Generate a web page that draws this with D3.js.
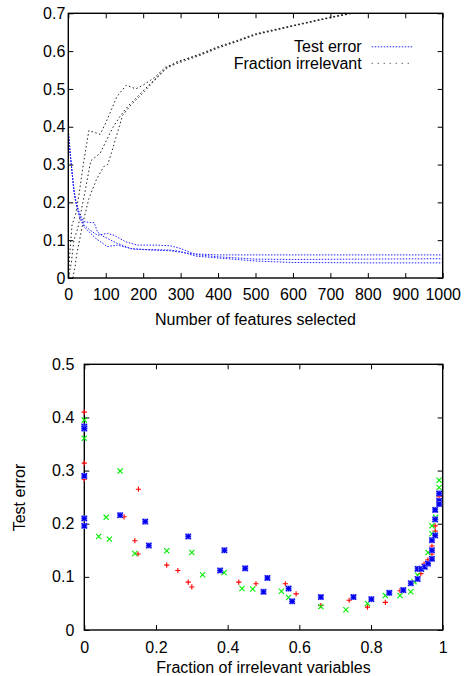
<!DOCTYPE html>
<html>
<head>
<meta charset="utf-8">
<script src="https://cdn.jsdelivr.net/npm/d3@7"></script>
<style>
  html, body { margin: 0; padding: 0; background: #fff; }
  svg { display: block; }
  text { font-family: "Liberation Sans", Arial, sans-serif; font-size: 16px; fill: #000; }
</style>
</head>
<body>
<svg id="chart" width="464" height="676"></svg>
<script>
// ---------- Top chart data (number of features selected) ----------
const featTicks = [0,100,200,300,400,500,600,700,800,900,1000];
const topYTicks = [0,0.1,0.2,0.3,0.4,0.5,0.6,0.7];

// Test error curves (blue)
const errA_x = [0,5,10,15,20,30,42,55,69,78,90,104,130,167,220,273,330,400,500,700,1000];
const errA_y = [0.39,0.33,0.28,0.235,0.205,0.17,0.149,0.147,0.146,0.122,0.112,0.105,0.092,0.078,0.074,0.072,0.064,0.061,0.061,0.061,0.061];
const errB_x = [0,5,10,15,20,30,42,60,78,104,122,153,184,238,273,300,340,400,500,600,800,1000];
const errB_y = [0.39,0.33,0.28,0.23,0.2,0.165,0.14,0.125,0.113,0.118,0.113,0.096,0.087,0.087,0.085,0.078,0.062,0.056,0.05,0.049,0.05,0.051];
const errC_x = [0,5,10,15,20,30,42,73,104,131,175,273,300,340,400,500,600,800,1000];
const errC_y = [0.39,0.33,0.28,0.23,0.2,0.16,0.135,0.105,0.083,0.087,0.076,0.074,0.07,0.058,0.053,0.045,0.041,0.04,0.04];

// Fraction irrelevant curves (black)
const fracA_x = [0,5,10,20,30,40,55,70,85,100,115,130,155,180,200,230,260,290,350,400,450,500,600,700,800,900,1000];
const fracA_y = [0,0.08,0.14,0.17,0.23,0.3,0.39,0.385,0.38,0.41,0.445,0.48,0.51,0.50,0.51,0.53,0.558,0.57,0.592,0.612,0.628,0.646,0.668,0.69,0.71,0.73,0.75];
const fracB_x = [0,8,15,25,35,45,60,85,100,120,140,160,200,230,260,290,350,400,450,500,600,700,800,900,1000];
const fracB_y = [0,0.04,0.1,0.13,0.18,0.23,0.31,0.33,0.36,0.40,0.43,0.455,0.495,0.525,0.555,0.567,0.588,0.608,0.625,0.643,0.666,0.688,0.708,0.728,0.748];
const fracC_x = [12,18,22,30,40,55,75,95,105,115,130,145,165,200,230,260,290,350,400,450,500,600,700,800,900,1000];
const fracC_y = [0,0.03,0.06,0.1,0.15,0.21,0.26,0.295,0.30,0.33,0.38,0.43,0.455,0.49,0.522,0.552,0.572,0.59,0.61,0.626,0.644,0.667,0.689,0.709,0.729,0.749];

// ---------- Bottom chart data (test error vs fraction irrelevant) ----------
const fracTicks = [0,0.2,0.4,0.6,0.8,1];
const botYTicks = [0,0.1,0.2,0.3,0.4,0.5];

const redX = [0,0,0,0.151,0.111,0.141,0.150,0.230,0.261,0.290,0.300,0.431,0.479,0.561,0.591,0.660,0.739,0.790,0.840,0.881,0.939,0.948,0.959,0.970,0.970,0.979,0.979,0.990,0.990];
const redY = [0.41,0.314,0.284,0.265,0.213,0.168,0.143,0.122,0.112,0.090,0.081,0.090,0.087,0.087,0.068,0.046,0.056,0.043,0.052,0.074,0.106,0.124,0.132,0.143,0.158,0.186,0.196,0.251,0.238];
const greenX = [0,0,0.100,0.061,0.040,0.070,0.141,0.230,0.300,0.330,0.390,0.440,0.470,0.550,0.570,0.660,0.730,0.790,0.840,0.881,0.911,0.920,0.930,0.950,0.959,0.970,0.970,0.980,0.980,0.990,0.990];
const greenY = [0.395,0.361,0.299,0.212,0.176,0.171,0.144,0.149,0.146,0.104,0.108,0.078,0.077,0.073,0.061,0.044,0.038,0.050,0.065,0.065,0.072,0.091,0.103,0.118,0.146,0.181,0.196,0.212,0.227,0.268,0.282];
const blueX = [0,0,0,0,0,0.100,0.170,0.180,0.290,0.391,0.379,0.449,0.500,0.511,0.570,0.580,0.660,0.751,0.801,0.851,0.890,0.911,0.930,0.930,0.940,0.950,0.959,0.970,0.970,0.970,0.979,0.979,0.979,0.990,0.990,0.990];
const blueY = [0.383,0.379,0.290,0.210,0.196,0.216,0.204,0.159,0.176,0.150,0.112,0.116,0.072,0.098,0.078,0.054,0.062,0.062,0.058,0.070,0.075,0.088,0.096,0.115,0.115,0.119,0.125,0.134,0.150,0.169,0.178,0.208,0.226,0.257,0.243,0.237];

// ---------- Drawing ----------
const svg = d3.select("#chart");
const TICK = 5;

function frame(g, x, y, xTicks, yTicks, xFmt, yFmt, xPad, yPad) {
  const [x0, x1] = x.range();
  const [y0, y1] = y.range();
  g.append("g").attr("transform", `translate(0,${y0})`)
    .call(d3.axisBottom(x).tickValues(xTicks).tickFormat(xFmt).tickSizeInner(-TICK).tickSizeOuter(0).tickPadding(xPad))
    .call(a => a.select(".domain").remove());
  g.append("g").attr("transform", `translate(0,${y1})`)
    .call(d3.axisTop(x).tickValues(xTicks).tickFormat("").tickSizeInner(-TICK).tickSizeOuter(0))
    .call(a => a.select(".domain").remove());
  g.append("g").attr("transform", `translate(${x0},0)`)
    .call(d3.axisLeft(y).tickValues(yTicks).tickFormat(yFmt).tickSizeInner(-TICK).tickSizeOuter(0).tickPadding(yPad))
    .call(a => a.select(".domain").remove());
  g.append("g").attr("transform", `translate(${x1},0)`)
    .call(d3.axisRight(y).tickValues(yTicks).tickFormat("").tickSizeInner(-TICK).tickSizeOuter(0))
    .call(a => a.select(".domain").remove());
  g.selectAll(".tick text").attr("font-size", 16).attr("font-family", '"Liberation Sans", Arial, sans-serif').attr("fill", "#000");
  g.selectAll(".tick line").attr("stroke", "#000").attr("stroke-width", 1);
  g.append("rect").attr("x", x0).attr("y", y1).attr("width", x1 - x0).attr("height", y0 - y1)
    .attr("fill", "none").attr("stroke", "#000").attr("stroke-width", 1.4);
}

const numFmt = d => d === 0 ? "0" : String(d);

// ----- Top chart -----
const xTop = d3.scaleLinear().domain([0, 1000]).range([68.3, 442.7]);
const yTop = d3.scaleLinear().domain([0, 0.7]).range([278, 13.3]);
const gTop = svg.append("g");

svg.append("defs").append("clipPath").attr("id", "clipTop")
  .append("rect").attr("x", 68.3).attr("y", 13.3).attr("width", 442.7 - 68.3).attr("height", 278 - 13.3);

const lineTop = d3.line().x(d => xTop(d[0])).y(d => yTop(d[1]));
const zipPts = (xs, ys) => xs.map((v, i) => [v, ys[i]]);

const blueSeries = [[errA_x, errA_y], [errB_x, errB_y], [errC_x, errC_y]];
const blackSeries = [[fracA_x, fracA_y], [fracB_x, fracB_y], [fracC_x, fracC_y]];
const lines = gTop.append("g").attr("clip-path", "url(#clipTop)");
blackSeries.forEach(([xs, ys]) => {
  lines.append("path").attr("d", lineTop(zipPts(xs, ys)))
    .attr("fill", "none").attr("stroke", "#222").attr("stroke-width", 1)
    .attr("stroke-dasharray", "1.5,2.5");
});
blueSeries.forEach(([xs, ys]) => {
  lines.append("path").attr("d", lineTop(zipPts(xs, ys)))
    .attr("fill", "none").attr("stroke", "#2222ff").attr("stroke-width", 1)
    .attr("stroke-dasharray", "1.5,1.5");
});

frame(gTop, xTop, yTop, featTicks, topYTicks, numFmt, numFmt, 11, 3);

gTop.append("text").attr("x", 255.5).attr("y", 325).attr("text-anchor", "middle").text("Number of features selected");

// legend
gTop.append("text").attr("x", 361.7).attr("y", 52.3).attr("text-anchor", "end").text("Test error");
gTop.append("text").attr("x", 361.7).attr("y", 69).attr("text-anchor", "end").text("Fraction irrelevant");
gTop.append("line").attr("x1", 371.7).attr("x2", 413.3).attr("y1", 46.8).attr("y2", 46.8)
  .attr("stroke", "#2222ff").attr("stroke-width", 1).attr("stroke-dasharray", "1.5,1.5");
gTop.append("line").attr("x1", 371.7).attr("x2", 413.3).attr("y1", 63.3).attr("y2", 63.3)
  .attr("stroke", "#222").attr("stroke-width", 1).attr("stroke-dasharray", "1,5");

// ----- Bottom chart -----
const xBot = d3.scaleLinear().domain([0, 1]).range([84.3, 442.7]);
const yBot = d3.scaleLinear().domain([0, 0.5]).range([630, 364.3]);
const gBot = svg.append("g");
frame(gBot, xBot, yBot, fracTicks, botYTicks, numFmt, numFmt, 11.5, 10);

gBot.append("text").attr("x", 263.5).attr("y", 673).attr("text-anchor", "middle").text("Fraction of irrelevant variables");
gBot.append("text").attr("transform", `translate(25,497.5) rotate(-90)`).attr("text-anchor", "middle").text("Test error");

const S = 2.6;
const pts = gBot.append("g");
// red "+"
zipPts(redX, redY).forEach(([a, b]) => {
  const cx = xBot(a), cy = yBot(b);
  pts.append("path").attr("d", `M${cx - S},${cy}H${cx + S}M${cx},${cy - S}V${cy + S}`)
    .attr("stroke", "#ff0000").attr("stroke-width", 1.1).attr("fill", "none");
});
// green "x"
zipPts(greenX, greenY).forEach(([a, b]) => {
  const cx = xBot(a), cy = yBot(b);
  pts.append("path").attr("d", `M${cx - S},${cy - S}L${cx + S},${cy + S}M${cx - S},${cy + S}L${cx + S},${cy - S}`)
    .attr("stroke", "#00ee00").attr("stroke-width", 1.1).attr("fill", "none");
});
// blue "*"
zipPts(blueX, blueY).forEach(([a, b]) => {
  const cx = xBot(a), cy = yBot(b);
  pts.append("rect").attr("x", cx - 3).attr("y", cy - 3).attr("width", 6).attr("height", 6)
    .attr("fill", "#8c8cff");
  pts.append("path").attr("d", `M${cx - S},${cy}H${cx + S}M${cx},${cy - S}V${cy + S}M${cx - S},${cy - S}L${cx + S},${cy + S}M${cx - S},${cy + S}L${cx + S},${cy - S}`)
    .attr("stroke", "#0000ee").attr("stroke-width", 1.2).attr("fill", "none");
});
</script>
</body>
</html>
